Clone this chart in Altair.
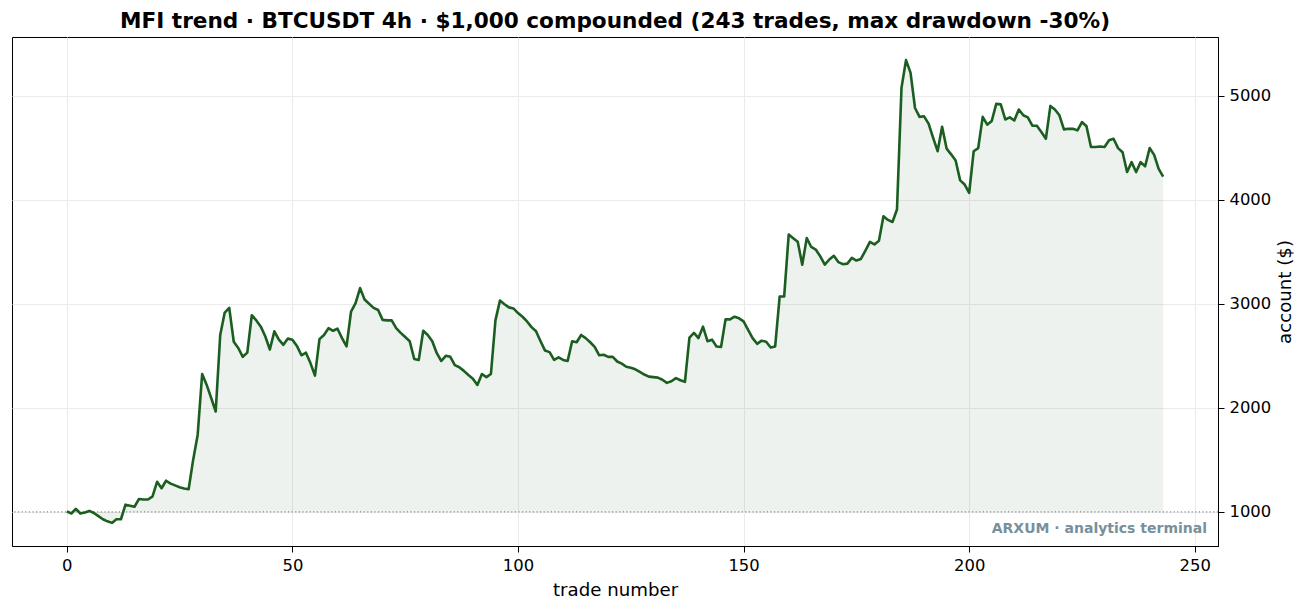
import altair as alt
import pandas as pd

trades = list(range(244))
account = [
    1005, 985, 1030, 985, 995, 1010, 990, 960, 930, 910,
    895, 930, 930, 1070, 1060, 1050, 1125, 1120, 1120, 1150,
    1290, 1228, 1300, 1272, 1255, 1237, 1225, 1218, 1500, 1740,
    2325, 2220, 2095, 1965, 2700, 2915, 2960, 2635, 2575, 2490,
    2530, 2890, 2840, 2780, 2685, 2560, 2735, 2655, 2605, 2665,
    2655, 2595, 2505, 2530, 2430, 2310, 2660, 2700, 2765, 2740,
    2760, 2670, 2590, 2925, 3005, 3150, 3040, 3000, 2960, 2940,
    2845, 2840, 2840, 2765, 2720, 2680, 2640, 2470, 2460, 2740,
    2700, 2640, 2525, 2450, 2500, 2490, 2410, 2390, 2355, 2315,
    2280, 2220, 2325, 2295, 2325, 2840, 3030, 2995, 2965, 2955,
    2910, 2875, 2830, 2775, 2735, 2640, 2550, 2535, 2460, 2485,
    2460, 2450, 2640, 2630, 2700, 2670, 2630, 2585, 2505, 2510,
    2490, 2490, 2445, 2425, 2395, 2385, 2370, 2345, 2320, 2300,
    2295, 2290, 2270, 2240, 2255, 2285, 2265, 2250, 2675, 2720,
    2670, 2780, 2640, 2655, 2590, 2585, 2850, 2850, 2875, 2860,
    2830, 2750, 2670, 2615, 2645, 2635, 2580, 2590, 3070, 3070,
    3665, 3630, 3595, 3375, 3630, 3545, 3520, 3455, 3375, 3425,
    3460, 3400, 3380, 3385, 3440, 3415, 3430, 3510, 3595, 3570,
    3605, 3840, 3805, 3785, 3905, 5075, 5340, 5220, 4880, 4795,
    4800, 4730, 4595, 4465, 4700, 4490, 4435, 4375, 4185, 4145,
    4065, 4465, 4495, 4795, 4720, 4755, 4920, 4915, 4770, 4790,
    4760, 4865, 4810, 4790, 4710, 4710, 4650, 4585, 4900, 4865,
    4810, 4675, 4680, 4680, 4665, 4745, 4705, 4505, 4505, 4510,
    4505, 4570, 4585, 4495, 4455, 4265, 4360, 4265, 4360, 4320,
    4495, 4430, 4295, 4220,
]
start_capital = 1000
x_ticks = [0, 50, 100, 150, 200, 250]
y_ticks = [1000, 2000, 3000, 4000, 5000]
title_text = "MFI trend · BTCUSDT 4h · $1,000 compounded (243 trades, max drawdown -30%)"
watermark = "ARXUM · analytics terminal"

df = pd.DataFrame({"trade": trades, "account": account})

green = "#1b5e20"
FONT = "DejaVu Sans"

xscale = alt.Scale(domain=[-12.15, 255.15], nice=False, zero=False)
yscale = alt.Scale(domain=[673, 5562], nice=False, zero=False)

xenc = alt.X("trade:Q", scale=xscale,
             axis=alt.Axis(values=x_ticks, title="trade number", format="d",
                           titlePadding=8))
yenc = alt.Y("account:Q", scale=yscale,
             axis=alt.Axis(values=y_ticks, orient="right", title="account ($)",
                           titleAngle=270, titleBaseline="top", format="d",
                           titlePadding=6))

base = alt.Chart(df)

area = base.mark_area(color=green, opacity=0.08).encode(
    x=xenc, y=yenc, y2=alt.datum(start_capital)
)
line = base.mark_line(color=green, strokeWidth=2.6, strokeJoin="round").encode(
    x=xenc, y=yenc)

rule = alt.Chart(pd.DataFrame({"v": [start_capital]})).mark_rule(
    color="#8a8a8a", strokeDash=[1.2, 2.4], strokeWidth=1.2
).encode(y=alt.Y("v:Q", scale=yscale))

wm = alt.Chart(pd.DataFrame({"t": [watermark]})).mark_text(
    align="right", baseline="bottom", font=FONT, fontSize=14,
    fontWeight="bold", color="#78909c"
).encode(text="t:N", x=alt.value(1195), y=alt.value(499))

chart = alt.layer(area, rule, line, wm).properties(
    width=1206, height=509,
    background="white",
    title=alt.TitleParams(text=title_text, font=FONT, fontSize=21.6,
                          fontWeight="bold", anchor="middle", color="black",
                          offset=4),
    autosize=alt.AutoSizeParams(type="none"),
    padding={"left": 12, "top": 37, "right": 89, "bottom": 66},
).configure_view(stroke="black", strokeWidth=1).configure_axis(
    labelFont=FONT, labelFontSize=16.4, labelColor="black",
    titleFont=FONT, titleFontSize=18.2, titleFontWeight="normal", titleColor="black",
    tickColor="black", tickSize=6, tickWidth=1,
    domain=True, domainColor="black",
    grid=True, gridColor="#ebebeb", gridWidth=1,
    labelPadding=5,
)

chart.save("out.html", embed_options={"renderer": "svg", "actions": False})
